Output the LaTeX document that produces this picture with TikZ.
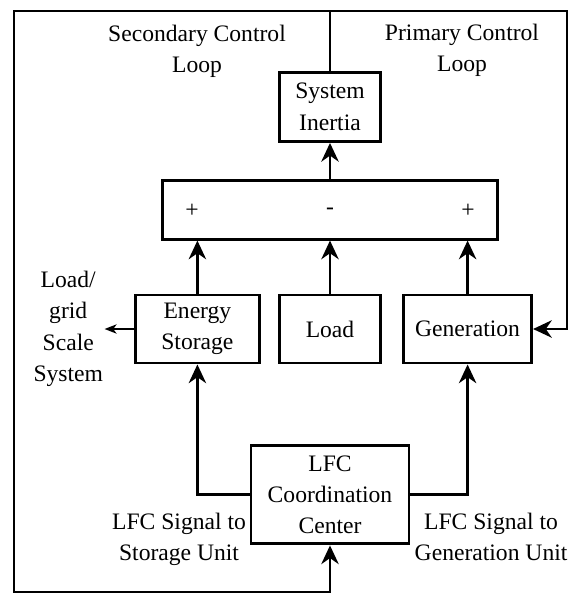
\documentclass[tikz,border=0pt]{standalone}
\usepackage{fontspec}
\setmainfont{Liberation Serif}
\usepackage{tikz}
\usetikzlibrary{arrows.meta, positioning}

\begin{document}
\begin{tikzpicture}[
  x=0.75pt, y=-0.75pt,
  font=\fontsize{17.7pt}{23.5pt}\selectfont,
  >={Stealth[length=14pt, width=13pt, inset=4.5pt]},
  block/.style={draw, line width=2.2pt, align=center, minimum height=51pt},
  lab/.style={align=center, inner sep=1pt},
  sign/.style={inner sep=0pt},
  flow/.style={->, line width=2.2pt},
  thinflow/.style={-{Stealth[length=9pt, width=7pt, inset=2.5pt]}, line width=1.1pt}
]
\useasboundingbox (0,0) rectangle (572,594);

% ---- Middle row ----
\node[block, minimum width=76pt] (load) at (330,329) {Load};
\node[block, minimum width=93pt, left=12.75pt of load] (es) {Energy\\Storage};
\node[block, minimum width=96pt, right=15pt of load] (gen) {Generation};

% ---- Summing block and inertia ----
\node[block, minimum width=251pt, minimum height=44pt, above=39.75pt of load] (sum) {};
\node[sign] (plusl) at ([xshift=-103.5pt, yshift=-1pt]sum.center) {+};
\node[sign] (minus) at ([yshift=-1pt]sum.center) {-};
\node[sign] (plusr) at ([xshift=103.5pt, yshift=-1pt]sum.center) {+};
\node[block, minimum width=76pt, minimum height=52pt, above=27pt of sum] (inertia) {System\\Inertia};

% ---- Coordination center ----
\node[block, minimum width=118.5pt, minimum height=73.5pt, below=60pt of load] (lfc)
  {LFC\\Coordination\\Center};

% ---- Labels ----
\node[lab] (sec) at (197,51) {Secondary Control\\Loop};
\node[lab] (prim) at (462,50) {Primary Control\\Loop};
\node[lab, left=22pt of es] (lgs) {Load/\\grid\\Scale\\System};
\node[lab, below left=12.5pt and 1.5pt of lfc.west] (sigst) {LFC Signal to\\Storage Unit};
\node[lab, below right=12.5pt and 2pt of lfc.east] (siggen) {LFC Signal to\\Generation Unit};

% ---- Signal flow ----
\draw[flow] (sum) -- (inertia);
\draw[flow] (es) -- (es |- sum.south);
\draw[flow] (load) -- (sum);
\draw[flow] (gen) -- (gen |- sum.south);
\draw[flow] (lfc.west) -| (es.south);
\draw[flow] (lfc.east) -| (gen.south);
\draw[thinflow] (es.west) -- (lgs.east);

% ---- Control loops ----
\coordinate (tl) at (14,11);
\coordinate (tr) at (567,11);
\coordinate (bl) at (14,592);
\draw[flow] (inertia.north) |- (tl) -- (bl) -| (lfc.south);
\draw[flow] (inertia.north) |- (tr) |- (gen.east);

\end{tikzpicture}
\end{document}
